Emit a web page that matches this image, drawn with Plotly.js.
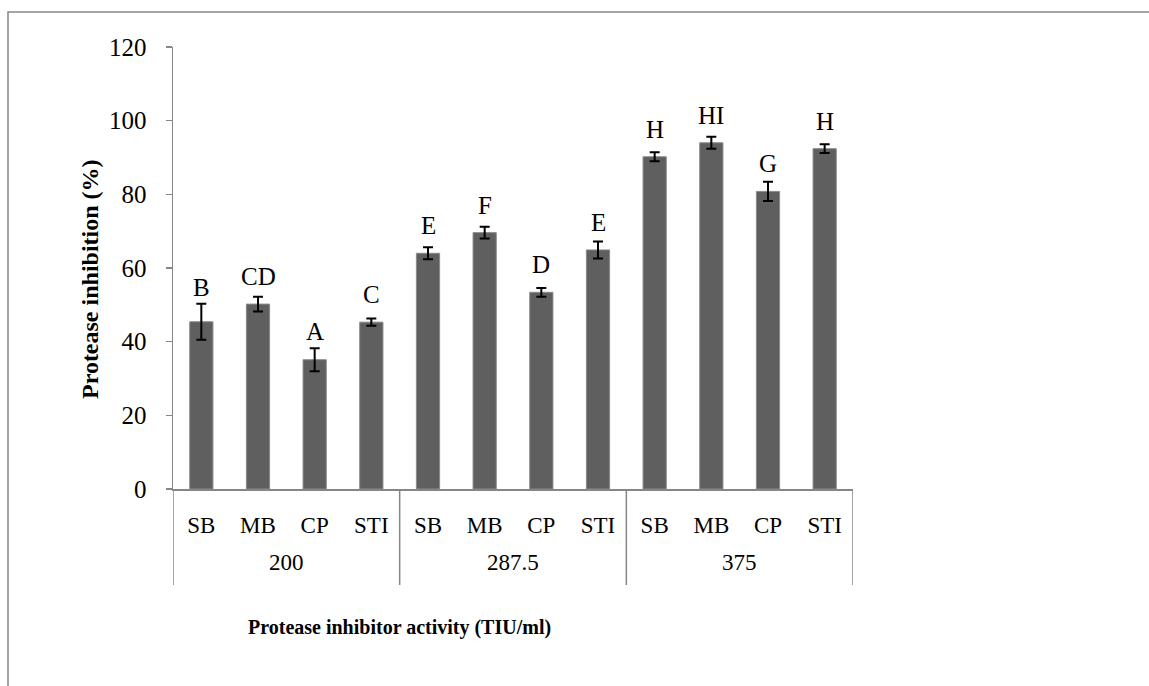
<!DOCTYPE html>
<html>
<head>
<meta charset="utf-8">
<script src="https://cdn.plot.ly/plotly-3.0.1.min.js"></script>
<style>
  html, body { margin: 0; padding: 0; background: #ffffff; }
  #chart { width: 1149px; height: 686px; }
</style>
</head>
<body>
<div id="chart"></div>
<script>
// ---- data ----
const groups = ['200', '287.5', '375'];
const inhibitors = ['SB', 'MB', 'CP', 'STI'];
const inhibition200 = [45.4, 50.2, 35.1, 45.3];
const inhibition287 = [64.0, 69.6, 53.4, 64.9];
const inhibition375 = [90.2, 94.0, 80.8, 92.4];
const error200 = [4.9, 2.0, 3.1, 1.0];
const error287 = [1.6, 1.6, 1.2, 2.3];
const error375 = [1.2, 1.6, 2.6, 1.2];
const letters200 = ['B', 'CD', 'A', 'C'];
const letters287 = ['E', 'F', 'D', 'E'];
const letters375 = ['H', 'HI', 'G', 'H'];
const yTicks = [0, 20, 40, 60, 80, 100, 120];

// ---- assemble ----
const valueSets = [inhibition200, inhibition287, inhibition375];
const errorSets = [error200, error287, error375];
const letterSets = [letters200, letters287, letters375];
const xPos = [], xCat = [], yVals = [], eVals = [], labs = [];
groups.forEach((g, gi) => {
  inhibitors.forEach((c, ci) => {
    xPos.push(xPos.length);
    xCat.push(c);
    yVals.push(valueSets[gi][ci]);
    eVals.push(errorSets[gi][ci]);
    labs.push(letterSets[gi][ci]);
  });
});
const nPer = inhibitors.length;

const serif = 'Liberation Serif, Times New Roman, serif';
const axisGray = '#868686';

const L = 173, R = 296, T = 47, B = 197;
const W = 1149, H = 686;
const plotW = W - L - R, plotH = H - T - B;
const yMax = 120;
const pxPerUnit = plotH / yMax;
const paperY = (py) => (H - B - py) / plotH;   // pixel row -> paper y

// letter labels: above the bar, pushed up by the error bar if needed
const annotations = labs.map((t, i) => {
  const yLab = Math.max(yVals[i] + 17 / pxPerUnit, yVals[i] + eVals[i] + 6 / pxPerUnit);
  return {
    xref: 'x', yref: 'y', x: xPos[i], y: yLab,
    text: t, showarrow: false, xanchor: 'center', yanchor: 'bottom', yshift: -5,
    font: {family: serif, size: 25, color: '#000'}
  };
});

// group labels (second category level)
groups.forEach((g, gi) => {
  annotations.push({
    xref: 'x', yref: 'paper', x: gi * nPer + (nPer - 1) / 2, y: paperY(562),
    text: g, showarrow: false, xanchor: 'center', yanchor: 'middle',
    font: {family: serif, size: 23, color: '#000'}
  });
});

annotations.push({
  xref: 'paper', yref: 'paper',
  x: (90 - L) / plotW, y: paperY(279),
  text: '<b>Protease inhibition (%)</b>', textangle: -90, showarrow: false,
  xanchor: 'center', yanchor: 'middle',
  font: {family: serif, size: 24, color: '#000'}
});
annotations.push({
  xref: 'paper', yref: 'paper',
  x: (399 - L) / plotW, y: paperY(627),
  text: '<b>Protease inhibitor activity (TIU/ml)</b>', showarrow: false,
  xanchor: 'center', yanchor: 'middle',
  font: {family: serif, size: 20, color: '#000'}
});

// group dividers below the axis
const shapes = [];
for (let gi = 0; gi <= groups.length; gi++) {
  const xd = gi * nPer - 0.5;
  shapes.push({
    type: 'line', xref: 'x', yref: 'paper', x0: xd, x1: xd, y0: 0, y1: paperY(585),
    line: {color: axisGray, width: 1.5}
  });
}
// outer frame
shapes.push({
  type: 'rect', xref: 'paper', yref: 'paper',
  x0: (8 - L) / plotW, x1: 1.6, y0: -1, y1: paperY(12),
  line: {color: axisGray, width: 1.5}, fillcolor: 'rgba(0,0,0,0)', layer: 'below'
});

const traces = [{
  type: 'bar',
  x: xPos,
  y: yVals,
  marker: {color: '#5f5f5f', line: {color: '#8a8a8a', width: 1}},
  error_y: {type: 'data', array: eVals, visible: true, color: '#000', thickness: 2, width: 5},
  hoverinfo: 'y'
}];

const layout = {
  width: W, height: H,
  margin: {l: L, r: R, t: T, b: B, pad: 0},
  paper_bgcolor: '#ffffff', plot_bgcolor: '#ffffff',
  showlegend: false,
  bargap: 0.59,
  font: {family: serif, color: '#000'},
  xaxis: {
    type: 'linear', range: [-0.5, xPos.length - 0.5],
    tickmode: 'array', tickvals: xPos, ticktext: xCat,
    showline: true, linecolor: axisGray, linewidth: 1.5,
    showgrid: false, zeroline: false,
    ticks: '', ticklabelstandoff: 15,
    tickfont: {family: serif, size: 23, color: '#000'},
    automargin: false, fixedrange: true
  },
  yaxis: {
    range: [0, yMax], tickmode: 'array', tickvals: yTicks, ticktext: yTicks.map(String),
    showline: true, linecolor: axisGray, linewidth: 1.5,
    showgrid: false, zeroline: false,
    ticks: 'outside', ticklen: 6, tickcolor: axisGray, tickwidth: 1.5,
    ticklabelstandoff: 14,
    tickfont: {family: serif, size: 25, color: '#000'},
    automargin: false, fixedrange: true
  },
  annotations: annotations,
  shapes: shapes
};

Plotly.newPlot('chart', traces, layout, {displayModeBar: false, staticPlot: true});
</script>
</body>
</html>
